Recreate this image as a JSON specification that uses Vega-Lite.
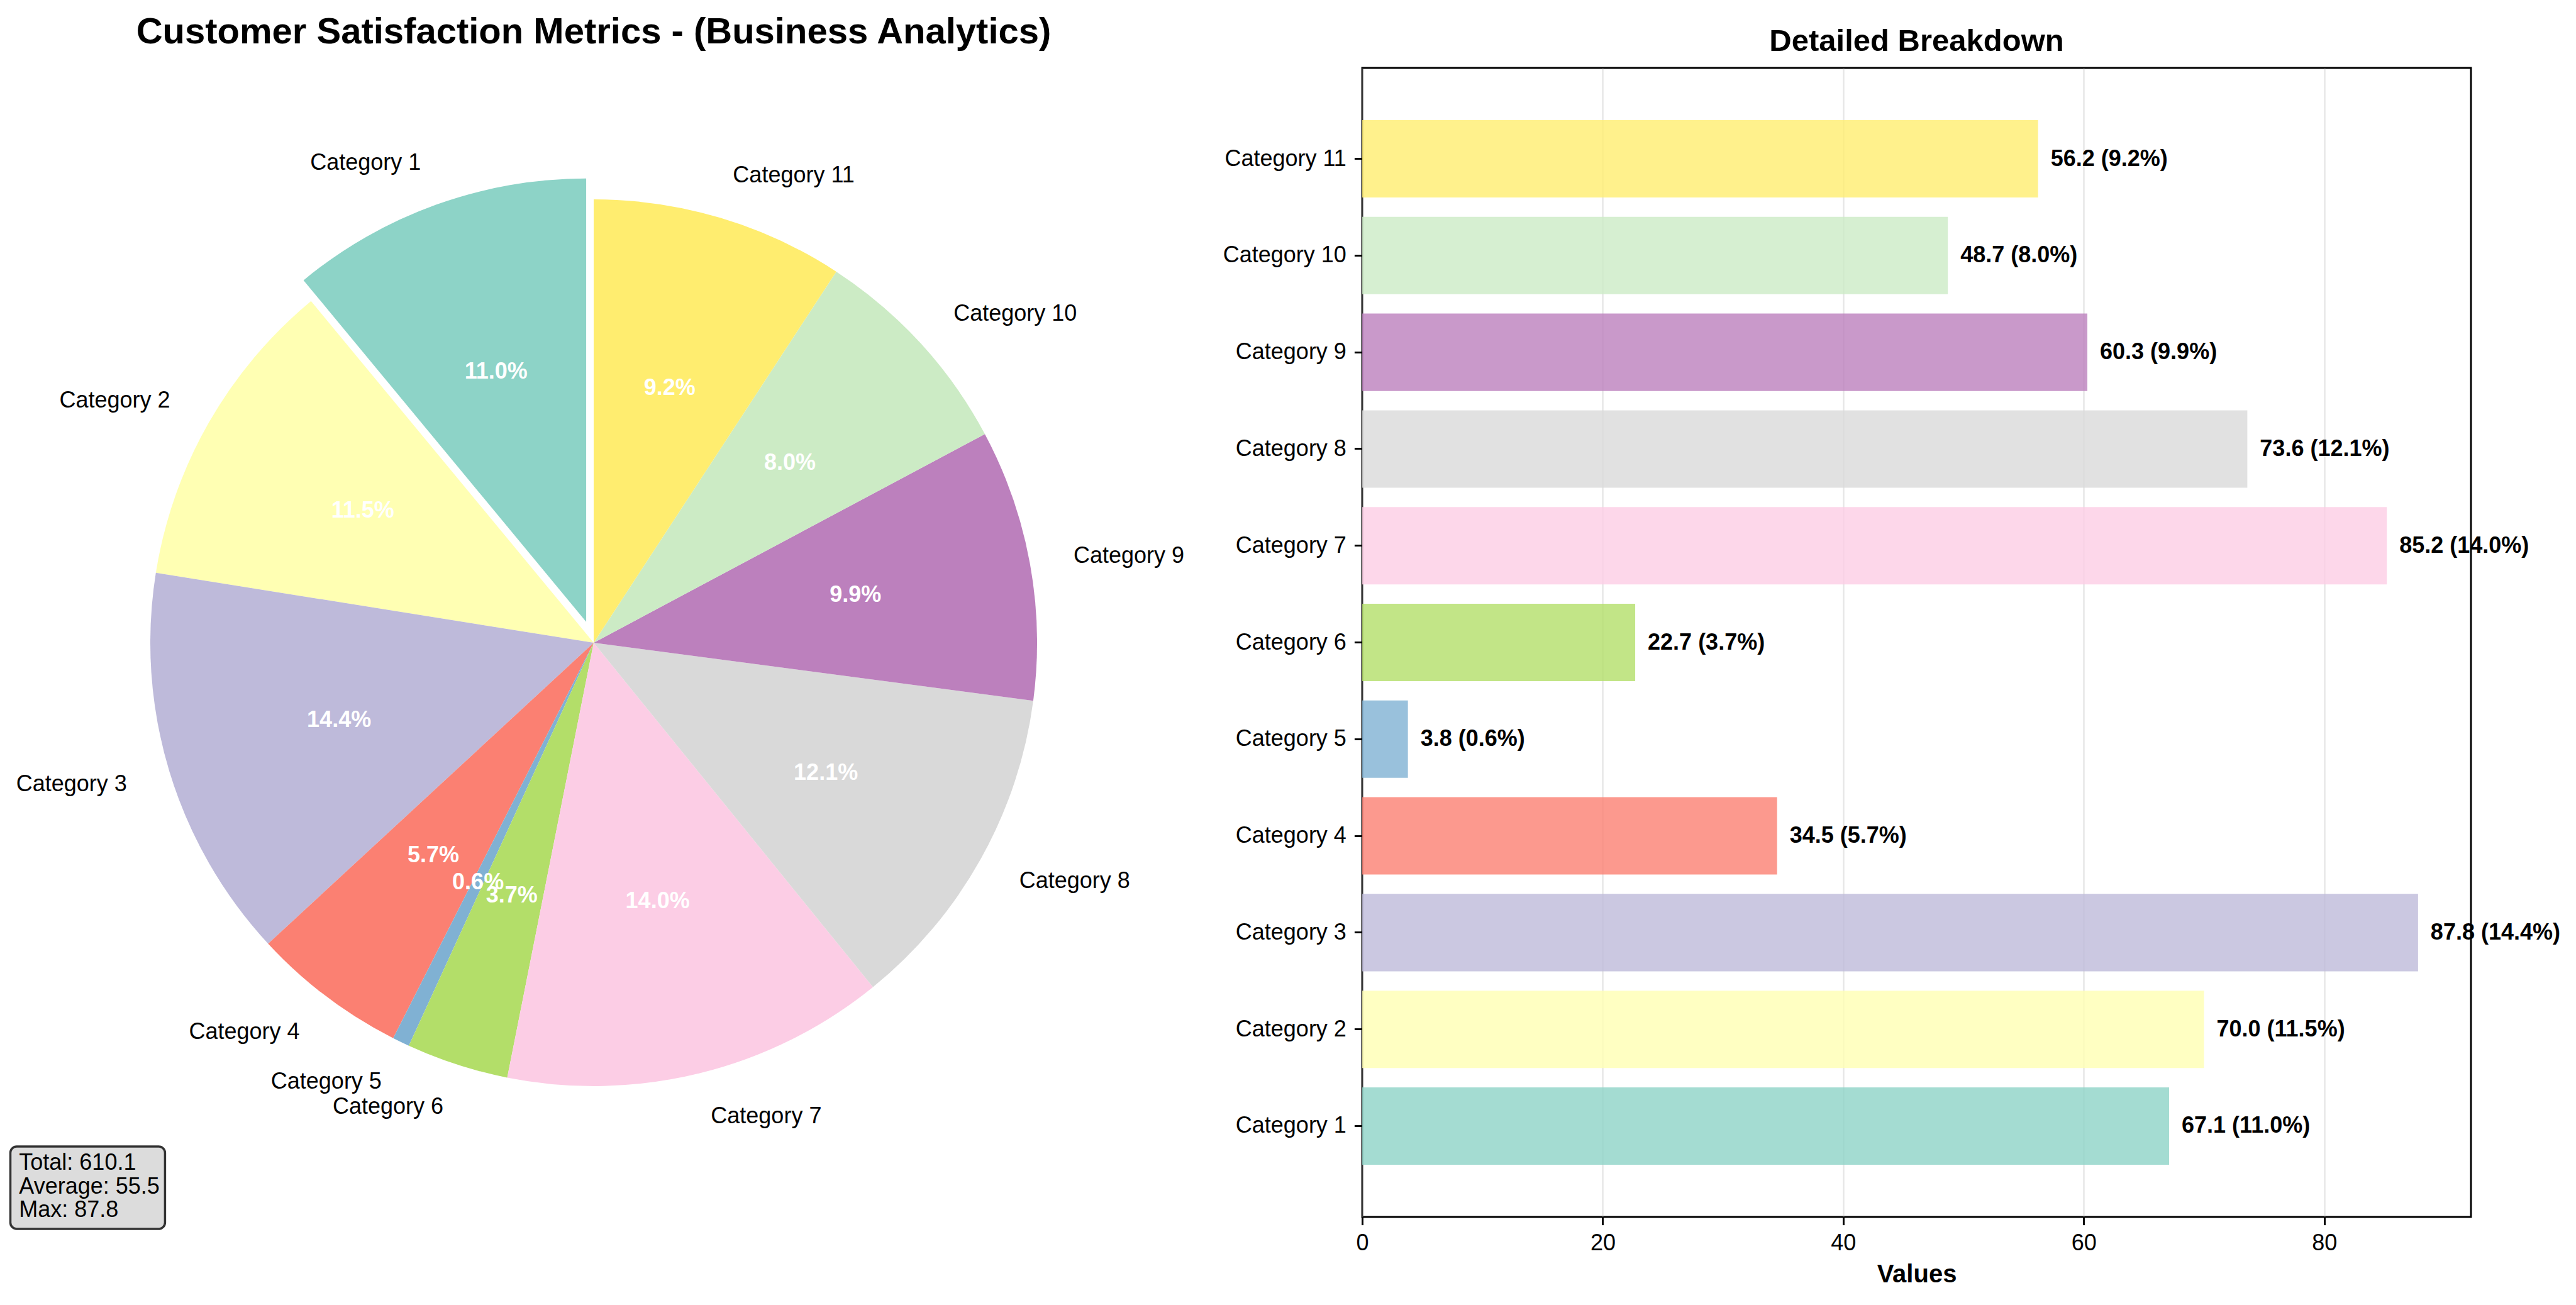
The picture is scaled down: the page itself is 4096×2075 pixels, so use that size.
{
  "$schema": "https://vega.github.io/schema/vega-lite/v6.json",
  "background": "white",
  "padding": 0,
  "bounds": "flush",
  "spacing": 278,
  "config": {
    "font": "Liberation Sans",
    "view": {"stroke": null}
  },
  "datasets": {
    "cats": [
      {"idx": 1, "category": "Category 1", "value": 67.1, "pct": "11.0%", "label": "67.1 (11.0%)"},
      {"idx": 2, "category": "Category 2", "value": 70.0, "pct": "11.5%", "label": "70.0 (11.5%)"},
      {"idx": 3, "category": "Category 3", "value": 87.8, "pct": "14.4%", "label": "87.8 (14.4%)"},
      {"idx": 4, "category": "Category 4", "value": 34.5, "pct": "5.7%", "label": "34.5 (5.7%)"},
      {"idx": 5, "category": "Category 5", "value": 3.8, "pct": "0.6%", "label": "3.8 (0.6%)"},
      {"idx": 6, "category": "Category 6", "value": 22.7, "pct": "3.7%", "label": "22.7 (3.7%)"},
      {"idx": 7, "category": "Category 7", "value": 85.2, "pct": "14.0%", "label": "85.2 (14.0%)"},
      {"idx": 8, "category": "Category 8", "value": 73.6, "pct": "12.1%", "label": "73.6 (12.1%)"},
      {"idx": 9, "category": "Category 9", "value": 60.3, "pct": "9.9%", "label": "60.3 (9.9%)"},
      {"idx": 10, "category": "Category 10", "value": 48.7, "pct": "8.0%", "label": "48.7 (8.0%)"},
      {"idx": 11, "category": "Category 11", "value": 56.2, "pct": "9.2%", "label": "56.2 (9.2%)"}
    ]
  },
  "hconcat": [
    {
      "width": 1888,
      "height": 2044,
      "view": {"stroke": null},
      "data": {"name": "cats"},
      "transform": [
        {"stack": "value", "groupby": [], "sort": [{"field": "idx", "order": "descending"}], "as": ["v0", "v1"]}
      ],
      "layer": [
        {
          "transform": [{"filter": "datum.idx != 1"}],
          "mark": {"type": "arc", "radius": 705, "stroke": null},
          "encoding": {
            "theta": {"field": "v0", "type": "quantitative", "scale": {"domain": [0, 609.9], "range": [0, 6.283185307179586]}},
            "theta2": {"field": "v1"},
            "color": {"field": "category", "type": "nominal", "legend": null,
              "scale": {"domain": ["Category 1","Category 2","Category 3","Category 4","Category 5","Category 6","Category 7","Category 8","Category 9","Category 10","Category 11"],
                        "range": ["#8dd3c7","#ffffb3","#bebada","#fb8072","#80b1d3","#b3de69","#fccde5","#d9d9d9","#bc80bd","#ccebc5","#ffed6f"]}}
          }
        },
        {
          "transform": [{"filter": "datum.idx == 1"}],
          "mark": {"type": "arc", "radius": 705, "stroke": null, "xOffset": -11.94, "yOffset": -33.17},
          "encoding": {
            "theta": {"field": "v0", "type": "quantitative", "scale": {"domain": [0, 609.9], "range": [0, 6.283185307179586]}},
            "theta2": {"field": "v1"},
            "color": {"field": "category", "type": "nominal", "legend": null,
              "scale": {"domain": ["Category 1","Category 2","Category 3","Category 4","Category 5","Category 6","Category 7","Category 8","Category 9","Category 10","Category 11"],
                        "range": ["#8dd3c7","#ffffb3","#bebada","#fb8072","#80b1d3","#b3de69","#fccde5","#d9d9d9","#bc80bd","#ccebc5","#ffed6f"]}}
          }
        },
        {
          "mark": {"type": "text", "radius": 423, "align": "center", "baseline": "middle", "fontSize": 36, "fontWeight": "bold", "color": "white"},
          "encoding": {
            "theta": {"field": "value", "type": "quantitative", "stack": true, "scale": {"domain": [0, 609.9], "range": [0, 6.283185307179586]}},
            "order": {"field": "idx", "sort": "descending"},
            "detail": {"field": "category", "type": "nominal"},
            "text": {"condition": {"test": "datum.idx != 1", "field": "pct", "type": "nominal"}, "value": ""}
          }
        },
        {
          "mark": {"type": "text", "radius": 423, "align": "center", "baseline": "middle", "fontSize": 36, "fontWeight": "bold", "color": "white", "xOffset": -11.94, "yOffset": -33.17},
          "encoding": {
            "theta": {"field": "value", "type": "quantitative", "stack": true, "scale": {"domain": [0, 609.9], "range": [0, 6.283185307179586]}},
            "order": {"field": "idx", "sort": "descending"},
            "detail": {"field": "category", "type": "nominal"},
            "text": {"condition": {"test": "datum.idx == 1", "field": "pct", "type": "nominal"}, "value": ""}
          }
        },
        {
          "mark": {"type": "text", "radius": 775.5, "align": "right", "baseline": "middle", "fontSize": 36, "color": "black"},
          "encoding": {
            "theta": {"field": "value", "type": "quantitative", "stack": true, "scale": {"domain": [0, 609.9], "range": [0, 6.283185307179586]}},
            "order": {"field": "idx", "sort": "descending"},
            "detail": {"field": "category", "type": "nominal"},
            "text": {"condition": {"test": "datum.idx >= 2 && datum.idx <= 6", "field": "category", "type": "nominal"}, "value": ""}
          }
        },
        {
          "mark": {"type": "text", "radius": 775.5, "align": "right", "baseline": "middle", "fontSize": 36, "color": "black", "xOffset": -11.94, "yOffset": -33.17},
          "encoding": {
            "theta": {"field": "value", "type": "quantitative", "stack": true, "scale": {"domain": [0, 609.9], "range": [0, 6.283185307179586]}},
            "order": {"field": "idx", "sort": "descending"},
            "detail": {"field": "category", "type": "nominal"},
            "text": {"condition": {"test": "datum.idx == 1", "field": "category", "type": "nominal"}, "value": ""}
          }
        },
        {
          "mark": {"type": "text", "radius": 775.5, "align": "left", "baseline": "middle", "fontSize": 36, "color": "black"},
          "encoding": {
            "theta": {"field": "value", "type": "quantitative", "stack": true, "scale": {"domain": [0, 609.9], "range": [0, 6.283185307179586]}},
            "order": {"field": "idx", "sort": "descending"},
            "detail": {"field": "category", "type": "nominal"},
            "text": {"condition": {"test": "datum.idx >= 7", "field": "category", "type": "nominal"}, "value": ""}
          }
        },
        {
          "data": {"values": [{}]},
          "mark": {"type": "text", "text": "Customer Satisfaction Metrics - (Business Analytics)", "x": 944, "y": 69.3, "align": "center", "baseline": "alphabetic", "fontSize": 58, "fontWeight": "bold", "color": "black"},
          "encoding": {}
        },
        {
          "data": {"values": [{}]},
          "mark": {"type": "rect", "x": 16.5, "x2": 262.4, "y": 1823, "y2": 1954, "cornerRadius": 10, "fill": "#dcdcdc", "stroke": "#333333", "strokeWidth": 3.5},
          "encoding": {}
        },
        {
          "data": {"values": [{}]},
          "mark": {"type": "text", "text": ["Total: 610.1", "Average: 55.5", "Max: 87.8"], "x": 30.3, "y": 1860, "align": "left", "baseline": "alphabetic", "fontSize": 36, "lineHeight": 37.7, "color": "black"},
          "encoding": {}
        }
      ]
    },
    {
      "bounds": "flush",
      "spacing": 8,
      "vconcat": [
        {
          "width": 1763,
          "height": 100,
          "view": {"stroke": null},
          "data": {"values": [{}]},
          "mark": {"type": "text", "text": ""},
          "encoding": {}
        },
        {
          "width": 1763,
          "height": 1827,
          "view": {"stroke": "black", "strokeWidth": 2.9},
          "title": {"text": "Detailed Breakdown", "fontSize": 49, "fontWeight": "bold", "baseline": "alphabetic", "offset": -22, "frame": "group", "anchor": "middle", "color": "black"},
          "data": {"name": "cats"},
          "encoding": {
            "y": {"field": "category", "type": "nominal",
              "scale": {"domain": ["Category 11","Category 10","Category 9","Category 8","Category 7","Category 6","Category 5","Category 4","Category 3","Category 2","Category 1"], "paddingInner": 0.2, "paddingOuter": 0.54},
              "axis": {"title": null, "domain": false, "labelFontSize": 36, "labelColor": "black", "labelPadding": 13, "labelLimit": 0, "tickSize": 12.6, "tickWidth": 2.9, "tickColor": "black", "grid": false}},
            "x": {"field": "value", "type": "quantitative",
              "scale": {"domain": [0, 92.2], "nice": false, "zero": false},
              "axis": {"values": [0, 20, 40, 60, 80], "title": "Values", "titleFontSize": 40, "titleFontWeight": "bold", "titleColor": "black", "titlePadding": 12, "labelFontSize": 36, "labelColor": "black", "labelPadding": 11.5, "tickSize": 12.6, "tickWidth": 2.9, "tickColor": "black", "domain": false, "grid": true, "gridColor": "#b0b0b0", "gridOpacity": 0.3, "gridWidth": 2.5, "labelFlush": false, "labelOverlap": false}}
          },
          "layer": [
            {
              "mark": {"type": "bar", "opacity": 0.8},
              "encoding": {
                "color": {"field": "category", "type": "nominal", "legend": null,
                  "scale": {"domain": ["Category 1","Category 2","Category 3","Category 4","Category 5","Category 6","Category 7","Category 8","Category 9","Category 10","Category 11"],
                            "range": ["#8dd3c7","#ffffb3","#bebada","#fb8072","#80b1d3","#b3de69","#fccde5","#d9d9d9","#bc80bd","#ccebc5","#ffed6f"]}}
              }
            },
            {
              "mark": {"type": "text", "align": "left", "baseline": "middle", "dx": 20, "fontSize": 36, "fontWeight": "bold", "color": "black"},
              "encoding": {"text": {"field": "label", "type": "nominal"}}
            }
          ]
        }
      ]
    }
  ]
}
